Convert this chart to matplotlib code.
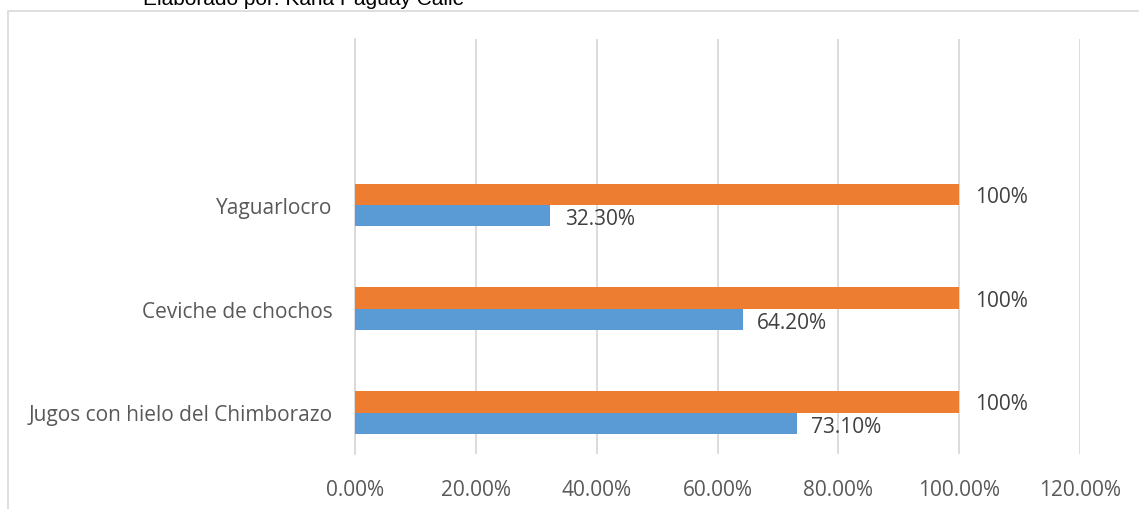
import matplotlib
matplotlib.use('Agg')
import matplotlib.pyplot as plt
from matplotlib.patches import Rectangle

categories = ['Jugos con hielo del Chimborazo', 'Ceviche de chochos', 'Yaguarlocro']
blue_vals = [73.1, 64.2, 32.3]
orange_vals = [100, 100, 100]
blue_labels = ['73.10%', '64.20%', '32.30%']
orange_labels = ['100%', '100%', '100%']
xticks = [0, 20, 40, 60, 80, 100, 120]

plt.rcParams['font.family'] = ['Open Sans', 'DejaVu Sans']

fig = plt.figure(figsize=(11.39, 5.10), dpi=100)
ax = fig.add_axes([355 / 1139, 1 - 455 / 510, 725 / 1139, 415 / 510])

# chart frame (cut off on the right and bottom)
fig.patches.append(Rectangle((8 / 1139, -0.1), 1.2, 0.1 + (1 - 12 / 510),
                             transform=fig.transFigure, fill=False,
                             edgecolor='#d9d9d9', linewidth=1.2))

fig.text(143 / 1139, 1 - 5 / 510, 'Elaborado por: Karla Paguay Calle',
         family='Liberation Sans', fontsize=15, color='black', va='baseline')

h = 0.207
pos = list(range(len(categories)))
ax.barh([p - h / 2 for p in pos], blue_vals, height=h, color='#5b9bd5', zorder=3)
ax.barh([p + h / 2 for p in pos], orange_vals, height=h, color='#ed7d31', zorder=3)

# data labels, nudged a little below the bar centre like the original
for p, v, t in zip(pos, blue_vals, blue_labels):
    ax.text(v + 2.4, p - h / 2 - 0.03, t, va='center', ha='left', fontsize=15, color='#404040')
for p, v, t in zip(pos, orange_vals, orange_labels):
    ax.text(v + 2.6, p + h / 2 - 0.02, t, va='center', ha='left', fontsize=15, color='#404040')

ax.set_xlim(0, 120)
ax.set_ylim(-0.4, 3.6)
ax.set_xticks(xticks)
ax.set_xticklabels([f'{x:.2f}%' for x in xticks])
ax.set_yticks(pos)
ax.set_yticklabels(categories)
ax.tick_params(axis='x', length=0, pad=18, labelsize=15, labelcolor='#595959')
ax.tick_params(axis='y', length=0, pad=16, labelsize=15, labelcolor='#595959')

ax.grid(axis='x', color='#d9d9d9', linewidth=1.3, zorder=0)
for s in ['top', 'right', 'bottom']:
    ax.spines[s].set_visible(False)
ax.spines['left'].set_color('#d9d9d9')
ax.spines['left'].set_linewidth(1.3)

fig.savefig('out.png', dpi=100)
